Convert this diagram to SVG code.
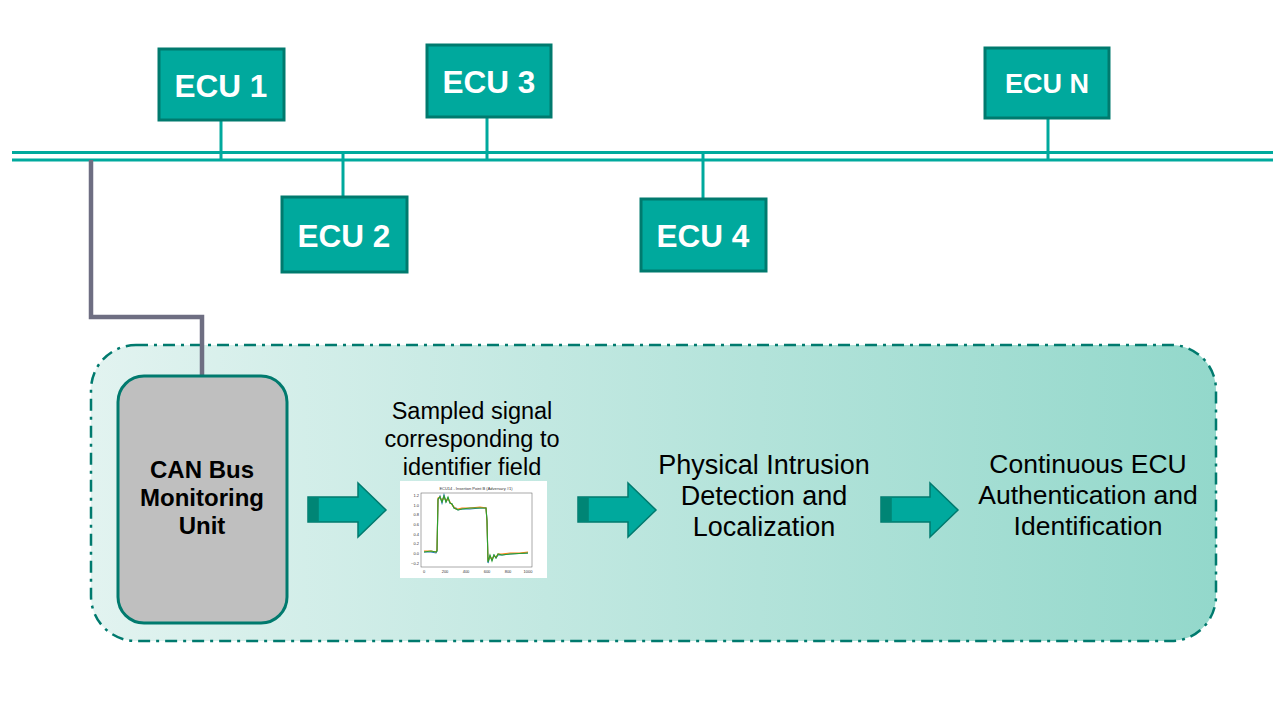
<svg xmlns="http://www.w3.org/2000/svg" width="1280" height="720" viewBox="0 0 1280 720">
<defs>
<linearGradient id="bg" x1="0" y1="0" x2="1" y2="0">
<stop offset="0" stop-color="#E2F3F0"/>
<stop offset="1" stop-color="#93D8CB"/>
</linearGradient>
<style>
.ecu rect{fill:#00A99D;stroke:#007A6E;stroke-width:3}
.ecu text{fill:#fff;font-family:"Liberation Sans",Arial,sans-serif;font-weight:bold;text-anchor:middle}
.bus{stroke:#00A99D;stroke-width:3;fill:none}
.arrow polygon{fill:#00A99D;stroke:#007A6E;stroke-width:1.5}
.arrow rect{fill:#008575}
.lbl{font-family:"Liberation Sans",Arial,sans-serif;fill:#000;text-anchor:middle}
.tick{font-family:"Liberation Sans",Arial,sans-serif;font-size:4px;fill:#333}
</style>
</defs>
<rect width="1280" height="720" fill="#fff"/>

<g id="container">
<rect x="91" y="345" width="1125" height="296" rx="45" fill="url(#bg)" stroke="#007A6E" stroke-width="2.5" stroke-dasharray="12,6,3,6"/>
</g>

<g id="connectors">
<line class="bus" x1="12" y1="152.5" x2="1273" y2="152.5"/>
<line class="bus" x1="12" y1="160" x2="1273" y2="160"/>
<line class="bus" x1="221" y1="120" x2="221" y2="160"/>
<line class="bus" x1="487" y1="117" x2="487" y2="160"/>
<line class="bus" x1="1048" y1="118" x2="1048" y2="160"/>
<line class="bus" x1="343" y1="152" x2="343" y2="197"/>
<line class="bus" x1="703" y1="152" x2="703" y2="199"/>
<polyline points="91,160 91,317 202,317 202,377" fill="none" stroke="#6E6E82" stroke-width="4.5"/>
</g>

<g id="ecu1" class="ecu"><rect x="159" y="49" width="125" height="71"/><text x="221" y="97" font-size="31.5">ECU 1</text></g>
<g id="ecu3" class="ecu"><rect x="427" y="45" width="124" height="72"/><text x="489" y="93" font-size="31.5">ECU 3</text></g>
<g id="ecuN" class="ecu"><rect x="985" y="48" width="124" height="70"/><text x="1047" y="93" font-size="27">ECU N</text></g>
<g id="ecu2" class="ecu"><rect x="282" y="197" width="125" height="75"/><text x="344" y="247" font-size="31.5">ECU 2</text></g>
<g id="ecu4" class="ecu"><rect x="641" y="199" width="125" height="72"/><text x="703" y="247" font-size="31.5">ECU 4</text></g>

<g id="can-unit">
<rect x="118" y="376" width="169" height="247" rx="26" fill="#BFBFBF" stroke="#007A6E" stroke-width="3"/>
<text class="lbl" font-size="24" font-weight="bold"><tspan x="202" y="478">CAN Bus</tspan><tspan x="202" y="506">Monitoring</tspan><tspan x="202" y="534">Unit</tspan></text>
</g>

<g id="arrow1" class="arrow"><polygon points="308,497 358,497 358,483 386,510 358,537 358,522 308,522"/><rect x="308.8" y="497.8" width="10" height="23.4"/></g>
<g id="arrow2" class="arrow"><polygon points="578,497 628,497 628,483 656,510 628,537 628,522 578,522"/><rect x="578.8" y="497.8" width="10" height="23.4"/></g>
<g id="arrow3" class="arrow"><polygon points="881,497 930,497 930,483 958,510 930,537 930,522 881,522"/><rect x="881.8" y="497.8" width="10" height="23.4"/></g>

<g id="sampled">
<text class="lbl" font-size="23.5"><tspan x="472" y="419">Sampled signal</tspan><tspan x="472" y="447">corresponding to</tspan><tspan x="472" y="475">identifier field</tspan></text>
<rect x="400" y="481" width="147" height="97" fill="#fff"/>
<text x="476" y="490" font-family="Liberation Sans,Arial,sans-serif" font-size="4" text-anchor="middle" fill="#333">ECU14 - Insertion Point B (Adversary #1)</text>
<rect x="421" y="493" width="111" height="74" fill="none" stroke="#555" stroke-width="0.5"/>
<g class="tick" text-anchor="end">
<text x="419" y="497">1.2</text><text x="419" y="507">1.0</text><text x="419" y="516">0.8</text><text x="419" y="526">0.6</text><text x="419" y="536">0.4</text><text x="419" y="545">0.2</text><text x="419" y="555">0.0</text><text x="419" y="565">−0.2</text>
</g>
<g class="tick" text-anchor="middle">
<text x="424" y="573">0</text><text x="445" y="573">200</text><text x="466" y="573">400</text><text x="487" y="573">600</text><text x="508" y="573">800</text><text x="528" y="573">1000</text>
</g>
<polyline fill="none" stroke="#1F77B4" stroke-width="1.1" points="424,552 431,552 436,553 437,551 438,500 440,496 442,503 444,495 446,502 448,498 450,503 452,504 454,508 456,508 458,510 462,509 470,509 480,508 486,508 487,520 488,563 490,556 492,560 494,555 496,558 498,555 502,555 510,554 528,553"/>
<polyline fill="none" stroke="#FF7F0E" stroke-width="1.1" points="424,551 431,551 436,552 437,550 438,498 440,497 442,501 444,497 446,501 448,499 450,502 452,505 454,507 456,509 458,509 462,508 470,508 480,507 486,508 487,522 488,561 490,557 492,559 494,556 496,557 498,554 502,554 510,553 520,553 528,552"/>
<polyline fill="none" stroke="#2CA02C" stroke-width="1.1" points="424,552 431,551 436,552 437,551 438,499 440,497 442,502 444,496 446,502 448,497 450,503 452,504 454,508 456,509 458,510 462,509 470,508 480,508 486,508 487,521 488,562 490,555 492,561 494,555 496,558 498,554 502,555 510,554 528,553"/>
</g>

<g id="pid">
<text class="lbl" font-size="27"><tspan x="764" y="474">Physical Intrusion</tspan><tspan x="764" y="505">Detection and</tspan><tspan x="764" y="536">Localization</tspan></text>
</g>
<g id="cea">
<text class="lbl" font-size="26.5"><tspan x="1088" y="473">Continuous ECU</tspan><tspan x="1088" y="504">Authentication and</tspan><tspan x="1088" y="535">Identification</tspan></text>
</g>
</svg>
